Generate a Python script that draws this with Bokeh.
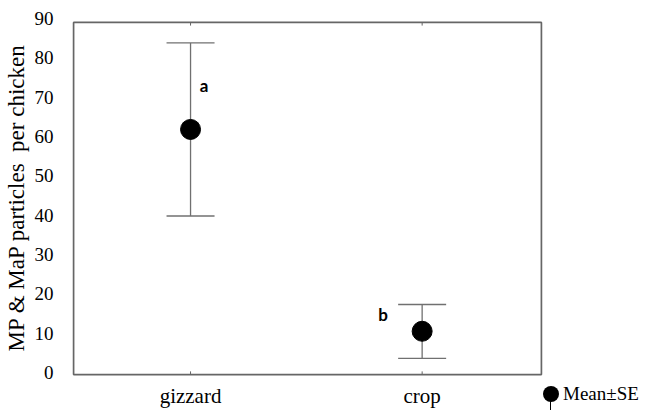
from bokeh.plotting import figure
from bokeh.models import (ColumnDataSource, Range1d, FixedTicker, Whisker, TeeHead, Div)
from bokeh.layouts import row
from bokeh.embed import file_html
from bokeh.resources import INLINE
from bokeh.core.properties import value

# ---- data ----
categories = ["gizzard", "crop"]
means = [61.8, 10.5]
upper = [83.8, 17.3]
lower = [39.8, 3.6]
letters = ["a", "b"]
letter_y = [72.9, 14.7]
y_ticks = [0, 10, 20, 30, 40, 50, 60, 70, 80, 90]
legend_label = "Mean\u00b1SE"

xpos = [i + 1 for i in range(len(categories))]
src = ColumnDataSource(dict(x=xpos, mean=means, upper=upper, lower=lower))

SERIF = "Liberation Serif"
GRAY = "#707070"
BOX_GRAY = "#666666"
# plot box edges (data units)
BOX_LEFT, BOX_RIGHT, BOX_BOTTOM, BOX_TOP = 0.495, 2.515, -0.5, 89

p = figure(width=543, height=410, output_backend="svg", toolbar_location=None,
           x_range=Range1d(0.486, 2.524), y_range=Range1d(-1.0, 90),
           min_border_left=71, min_border_right=0, min_border_top=18,
           min_border_bottom=32)
p.background_fill_color = "white"
p.border_fill_color = "white"
p.outline_line_color = None
p.xgrid.visible = False
p.ygrid.visible = False

# plot box
p.quad(left=[BOX_LEFT], right=[BOX_RIGHT], bottom=[BOX_BOTTOM], top=[BOX_TOP],
       fill_color=None, line_color=BOX_GRAY, line_width=1.7)
# inward tick marks on the top and bottom edges
n = len(xpos)
p.segment(x0=xpos, y0=[BOX_TOP] * n, x1=xpos, y1=[BOX_TOP - 0.8] * n,
          line_color=BOX_GRAY, line_width=1)
p.segment(x0=xpos, y0=[BOX_BOTTOM] * n, x1=xpos, y1=[BOX_BOTTOM + 0.8] * n,
          line_color=BOX_GRAY, line_width=1)

# y axis
p.yaxis.ticker = FixedTicker(ticks=y_ticks)
p.yaxis.axis_line_color = None
p.yaxis.major_tick_line_color = None
p.yaxis.minor_tick_line_color = None
p.yaxis.major_label_text_font = SERIF
p.yaxis.major_label_text_font_size = "19px"
p.yaxis.major_label_text_color = "black"
p.yaxis.major_label_standoff = 12
p.yaxis.axis_label = "MP & MaP particles\u00a0 per chicken"
p.yaxis.axis_label_text_font = SERIF
p.yaxis.axis_label_text_font_size = "23px"
p.yaxis.axis_label_text_font_style = "normal"
p.yaxis.axis_label_text_color = "black"
p.yaxis.axis_label_standoff = 3

# x axis
p.xaxis.ticker = FixedTicker(ticks=xpos)
p.xaxis.major_label_overrides = {x: c for x, c in zip(xpos, categories)}
p.xaxis.axis_line_color = None
p.xaxis.major_tick_line_color = None
p.xaxis.minor_tick_line_color = None
p.xaxis.major_label_text_font = SERIF
p.xaxis.major_label_text_font_size = "21px"
p.xaxis.major_label_text_color = "black"
p.xaxis.major_label_standoff = 1

# error bars
w = Whisker(source=src, base="x", upper="upper", lower="lower",
            line_color=GRAY, line_width=1.3,
            upper_head=TeeHead(size=48, line_color=GRAY, line_width=1.3),
            lower_head=TeeHead(size=48, line_color=GRAY, line_width=1.3))
p.add_layout(w)

p.scatter("x", "mean", source=src, size=20, color="black")

# significance letters
p.text(x=[x - 0.19 if i == 1 else x + 0.04 for i, x in enumerate(xpos)], y=letter_y,
       text=letters, text_font=value("Lato"), text_font_style="bold",
       text_font_size="17px", text_align="left", text_baseline="middle",
       text_color="black")

# legend key, to the right of the plot at the level of the x labels
key_html = (
    '<div style="position:relative;width:105px;height:410px;">'
    '<div style="position:absolute;left:0px;top:386px;width:16px;height:16px;'
    'border-radius:50%;background:black;"></div>'
    '<div style="position:absolute;left:7px;top:400px;width:1.3px;height:10px;'
    'background:black;"></div>'
    '<span style="position:absolute;left:20px;top:383px;font-family:\'Liberation Serif\';'
    'font-size:19px;line-height:22px;color:black;white-space:nowrap;">'
    + legend_label + '</span></div>'
)
key = Div(text=key_html, width=105, height=410, margin=0)

open("out.html", "w").write(file_html(row(p, key), INLINE))
